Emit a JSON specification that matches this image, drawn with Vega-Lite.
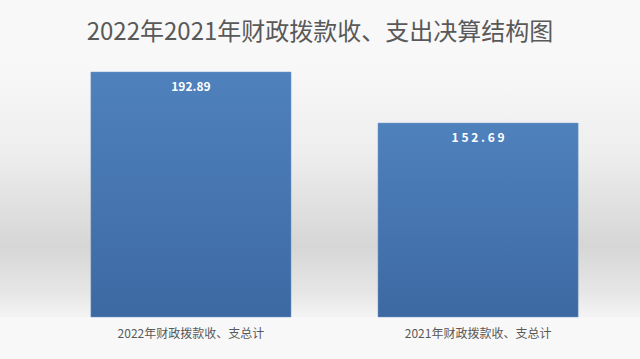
{
  "$schema": "https://vega.github.io/schema/vega-lite/v6.json",
  "autosize": {"type": "none"},
  "width": 640,
  "height": 254,
  "padding": {"left": 0, "right": 0, "top": 63, "bottom": 42},
  "background": "#f8f8f8",
  "config": {
    "font": "Noto Sans CJK SC",
    "view": {
      "stroke": null,
      "fill": {
        "gradient": "linear", "x1": 0, "y1": 0, "x2": 0, "y2": 1,
        "stops": [
          {"offset": 0, "color": "#f8f8f8"},
          {"offset": 0.35, "color": "#eeeeee"},
          {"offset": 0.72, "color": "#d6d6d6"},
          {"offset": 0.9, "color": "#e6e6e6"},
          {"offset": 1, "color": "#f4f4f4"}
        ]
      }
    }
  },
  "title": {
    "text": "2022年2021年财政拨款收、支出决算结构图",
    "fontSize": 24,
    "fontWeight": "normal",
    "color": "#595959",
    "anchor": "middle",
    "offset": 18
  },
  "data": {
    "values": [
      {"category": "2022年财政拨款收、支总计", "value": 192.89, "label": "192.89"},
      {"category": "2021年财政拨款收、支总计", "value": 152.69, "label": "1 5 2 . 6 9"}
    ]
  },
  "encoding": {
    "x": {
      "field": "category",
      "type": "nominal",
      "sort": null,
      "scale": {"paddingInner": 0.303, "paddingOuter": 0.266, "align": 0.595},
      "axis": {
        "title": null,
        "labelAngle": 0,
        "ticks": false,
        "domain": false,
        "labelPadding": 11,
        "labelFontSize": 12,
        "labelColor": "#595959",
        "labelFont": "Noto Sans CJK SC"
      }
    },
    "y": {
      "field": "value",
      "type": "quantitative",
      "scale": {"domain": [0, 200]},
      "axis": null
    }
  },
  "layer": [
    {
      "mark": {
        "type": "bar",
        "color": {
          "gradient": "linear", "x1": 0, "y1": 0, "x2": 0, "y2": 1,
          "stops": [
            {"offset": 0, "color": "#4f81bd"},
            {"offset": 1, "color": "#3d69a2"}
          ]
        },
        "stroke": "#6f97c9",
        "strokeWidth": 0.5
      }
    },
    {
      "mark": {
        "type": "text",
        "color": "white",
        "fontWeight": "bold",
        "fontSize": 12,
        "baseline": "middle",
        "dy": 15,
        "font": "Noto Sans CJK SC"
      },
      "encoding": {"text": {"field": "label"}}
    }
  ]
}
